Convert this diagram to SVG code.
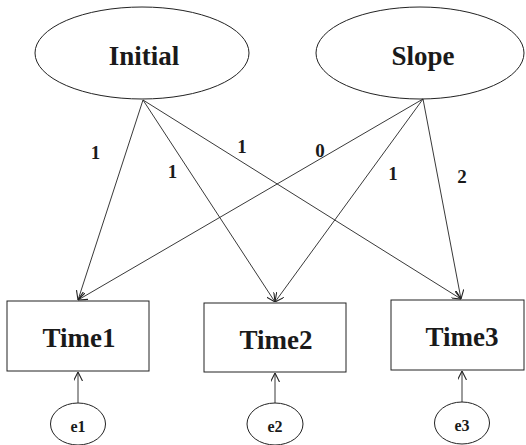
<svg xmlns="http://www.w3.org/2000/svg" width="526" height="445" viewBox="0 0 526 445">
<style>
.shape{fill:#fff;stroke:#222;stroke-width:1}
.con{fill:none;stroke:#222;stroke-width:0.9}
.big{font-family:"Liberation Serif",serif;font-weight:bold;font-size:27px;fill:#1a1a1a;text-anchor:middle}
.lbl{font-family:"Liberation Serif",serif;font-weight:bold;font-size:19px;fill:#1a1a1a;text-anchor:middle}
.small{font-family:"Liberation Serif",serif;font-weight:bold;font-size:16px;fill:#1a1a1a;text-anchor:middle}
</style>
<defs>
<marker id="arr" viewBox="0 0 10 10" refX="10" refY="5" markerWidth="9" markerHeight="9" markerUnits="userSpaceOnUse" orient="auto">
<path d="M0,0 L10,5 L0,10" fill="none" stroke="#222" stroke-width="1.2"/>
</marker>
</defs>
<rect width="526" height="445" fill="#fff"/>
<g id="initial"><ellipse class="shape" cx="142" cy="53" rx="107" ry="46"/><text class="big" x="144" y="65">Initial</text></g>
<g id="slope"><ellipse class="shape" cx="420" cy="53" rx="104" ry="46"/><text class="big" x="423" y="65">Slope</text></g>
<g id="time1"><rect class="shape" x="7" y="301" width="142" height="70"/><text class="big" x="79" y="347">Time1</text></g>
<g id="time2"><rect class="shape" x="204" y="303" width="142" height="69"/><text class="big" x="276" y="349">Time2</text></g>
<g id="time3"><rect class="shape" x="391" y="300" width="133" height="70"/><text class="big" x="462" y="346">Time3</text></g>
<g id="e1"><ellipse class="shape" cx="78" cy="424" rx="27.5" ry="21"/><text class="small" x="78" y="432">e1</text></g>
<g id="e2"><ellipse class="shape" cx="275" cy="424" rx="28" ry="21"/><text class="small" x="275" y="432">e2</text></g>
<g id="e3"><ellipse class="shape" cx="462" cy="423" rx="27.5" ry="21"/><text class="small" x="462" y="431">e3</text></g>
<g id="connectors">
<line class="con" x1="143" y1="100" x2="78" y2="300" marker-end="url(#arr)"/>
<line class="con" x1="143" y1="100" x2="275" y2="302" marker-end="url(#arr)"/>
<line class="con" x1="143" y1="100" x2="461" y2="299" marker-end="url(#arr)"/>
<line class="con" x1="423" y1="99" x2="78" y2="300" marker-end="url(#arr)"/>
<line class="con" x1="423" y1="99" x2="275" y2="302" marker-end="url(#arr)"/>
<line class="con" x1="423" y1="99" x2="461" y2="299" marker-end="url(#arr)"/>
<line class="con" x1="78" y1="403" x2="78" y2="372" marker-end="url(#arr)"/>
<line class="con" x1="275" y1="403" x2="275" y2="373" marker-end="url(#arr)"/>
<line class="con" x1="462" y1="402" x2="462" y2="371" marker-end="url(#arr)"/>
<text class="lbl" x="95.5" y="159">1</text>
<text class="lbl" x="172.5" y="178">1</text>
<text class="lbl" x="242" y="153">1</text>
<text class="lbl" x="320" y="157">0</text>
<text class="lbl" x="393" y="180">1</text>
<text class="lbl" x="462" y="183">2</text>
</g>
</svg>
